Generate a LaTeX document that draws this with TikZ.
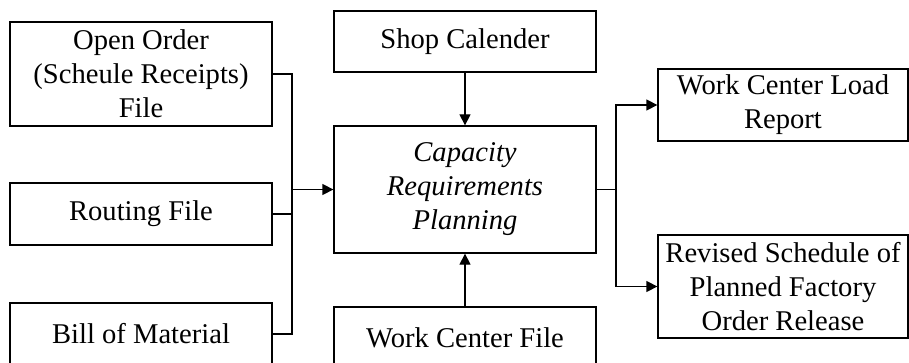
\documentclass[tikz,border=0pt]{standalone}
\usepackage{fontspec}
\setmainfont{Liberation Serif}
\usetikzlibrary{arrows.meta}
\begin{document}
\begin{tikzpicture}[x=0.5pt,y=-0.5pt,
  box/.style={draw,line width=0.65pt,align=center,inner sep=0pt,
    minimum width=131pt,font=\fontsize{14.3}{17}\selectfont},
  flow/.style={line width=0.65pt},
  feed/.style={flow,-{Triangle[length=5.5pt,width=5.5pt]}}]

\useasboundingbox (0,0) rectangle (909,363);
\clip (0,0) rectangle (909,363);

% input files
\node[box,minimum height=52pt] (open) at (141,74) {Open Order\\(Scheule Receipts)\\File};
\node[box,minimum height=31pt] (routing) at (141,214) {Routing File};
\node[box,minimum height=31pt] (bill) at (141,334) {Bill of Material};

% middle column
\node[box,minimum height=30.5pt] (shop) at (465,41.5) {Shop Calender};
\node[box,minimum height=63.5pt] (crp) at (465,189.5) {\itshape Capacity\\\itshape Requirements\\\itshape Planning};
\node[box,minimum height=31pt] (wcf) at (465,338) {Work Center File};

% outputs
\node[box,minimum width=125pt,minimum height=36pt] (load) at (783,105) {Work Center Load\\Report};
\node[box,minimum width=125pt,minimum height=51.5pt] (revised) at (783,286.5) {Revised Schedule of\\Planned Factory\\Order Release};

\coordinate (lbus) at (292,189.5);
\coordinate (rbus) at (616,189.5);

\draw[flow] (open.east) -| (lbus) (bill.east) -| (lbus)
  (routing.east) -- (routing.east -| lbus);
\draw[feed] (lbus) -- (crp.west);
\draw[feed] (shop) -- (crp);
\draw[feed] (wcf) -- (crp);
\draw[flow] (crp.east) -- (rbus);
\draw[feed] (rbus) |- (load.west);
\draw[feed] (rbus) |- (revised.west);

\end{tikzpicture}
\end{document}
